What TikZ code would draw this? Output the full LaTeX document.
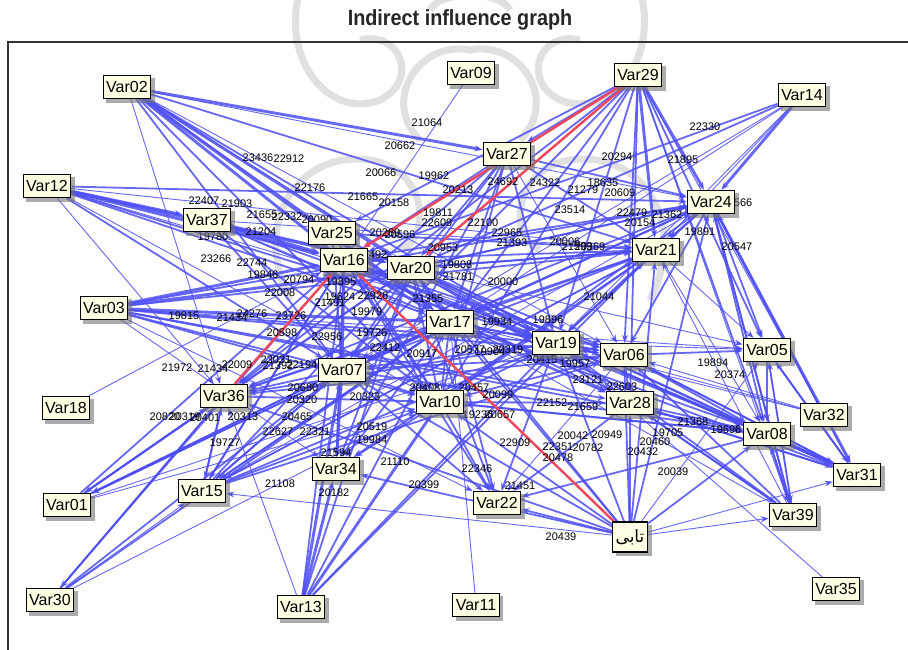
\documentclass[tikz,border=0pt]{standalone}
\usepackage{fontspec}
\setmainfont{Liberation Sans}
\newfontfamily\arabicfont[Script=Arabic]{DejaVu Sans}
\TeXXeTstate=1
\usetikzlibrary{arrows.meta,backgrounds}
\definecolor{eblue}{RGB}{78,78,245}
\definecolor{ered}{RGB}{240,70,90}
\definecolor{cream}{RGB}{255,255,228}
\definecolor{wm}{RGB}{224,224,224}
\pgfdeclarelayer{sh}
\pgfdeclarelayer{fg}
\pgfsetlayers{background,main,sh,fg}
\tikzset{
 vn/.style={draw=black, line width=1.2pt, fill=cream, font=\fontsize{16}{16}\selectfont,
   inner xsep=3pt, inner ysep=3pt, minimum height=23pt},
 el/.style={font=\fontsize{11}{11}\selectfont, inner sep=0pt},
 ed/.style={draw=eblue, draw opacity=0.85, -{Stealth[length=8pt,width=6pt]}},
 tk/.style={line width=2.9pt}, md/.style={line width=1.8pt}, tn/.style={line width=0.9pt},
 rd/.style={draw=ered, line width=2.4pt, -{Stealth[length=8pt,width=6pt]}},
 shd/.style={fill=black!55, fill opacity=0.6},
 wmk/.style={draw=wm, line width=7pt}
}
\begin{document}
\begin{tikzpicture}[x=1pt,y=-1pt]
\useasboundingbox (0,0) rectangle (908,650);
\begin{pgfonlayer}{fg}
\foreach \n/\x/\y in {02/127/87, 09/471/73, 29/638/75, 14/802/95, 27/507/154, 12/47/186,
 37/207/220, 24/711/202, 25/332/233, 16/344/260, 20/411/268, 21/656/250, 03/104/308,
 17/450/322, 19/556/343, 06/624/355, 05/767/350, 07/342/370, 36/224/396, 10/440/402,
 28/630/403, 18/66/408, 32/824/415, 08/767/434, 31/857/475, 34/336/469, 15/202/491,
 01/67/505, 22/497/503, 39/793/515, 30/50/600, 13/301/607, 11/476/605, 35/836/589}
 \node[vn] (n\n) at (\x,\y) {Var\n};
\node[vn, font=\fontsize{17}{17}\selectfont, minimum height=30pt] (ntb) at (630,537) {\arabicfont\beginR تابی\endR};
\end{pgfonlayer}
\begin{pgfonlayer}{sh}
\foreach \n in {02,09,29,14,27,12,37,24,25,16,20,21,03,17,19,06,05,07,36,10,28,18,32,08,31,34,15,01,22,39,30,13,11,35,tb}
 \fill[shd] ([shift={(3.5pt,-3.5pt)}]n\n.south west) rectangle ([shift={(3.5pt,-3.5pt)}]n\n.north east);
\end{pgfonlayer}
\begin{pgfonlayer}{background}
\fill[white] (0,0) rectangle (908,650);
% faint watermark ornament
\draw[wmk] (300,-10) .. controls (280,60) and (330,120) .. (380,100) .. controls (420,80) and (400,30) .. (360,40);
\draw[wmk] (640,-10) .. controls (660,60) and (610,120) .. (560,100) .. controls (520,80) and (540,30) .. (580,40);
\draw[wmk] (290,300) .. controls (250,220) and (300,150) .. (370,160) .. controls (430,170) and (430,240) .. (400,250);
\draw[wmk] (650,300) .. controls (690,220) and (640,150) .. (570,160) .. controls (510,170) and (510,240) .. (540,250);
\draw[wmk] (420,140) .. controls (380,100) and (420,40) .. (470,50) .. controls (520,40) and (560,100) .. (520,140);
\draw[wmk] (430,10) .. controls (440,-10) and (500,-10) .. (510,10);
\foreach \a/\b/\w in {02/27/tk, 02/16/tk, 02/20/tk, 02/17/tk, 02/19/md, 02/21/md, 02/25/md, 02/07/md, 02/10/md, 02/06/tn, 02/24/tn, 02/28/tn, 02/36/tn,
 12/24/md, 12/37/tk, 12/16/tk, 12/20/tk, 12/17/md, 12/19/md, 12/06/tn, 12/07/md, 12/10/tn, 12/21/tn, 12/36/tn,
 03/16/tk, 03/20/tk, 03/17/tk, 03/21/md, 03/24/md, 03/19/md, 03/06/md, 03/28/md, 03/08/md, 03/05/tn, 03/07/md, 03/10/md, 03/34/tn, 03/22/tn,
 29/27/md, 29/25/md, 29/17/md, 29/19/md, 29/21/tk, 29/24/tk, 29/06/md, 29/28/md, 29/05/md, 29/08/md, 29/10/md, 29/07/md, 29/36/md, 29/39/tn, 29/31/tn,
 14/24/tk, 14/16/md, 14/20/md, 14/17/tn, 14/21/tn, 14/19/tn, 14/07/tn, 09/16/tn,
 27/16/md, 27/20/md, 27/17/md, 27/21/md, 27/24/md, 27/19/md, 27/10/md, 27/07/md, 27/06/tn, 27/36/md, 27/34/md,
 37/16/tk, 37/20/md, 37/17/md, 37/19/md, 37/07/md, 37/10/md, 37/06/tn, 37/28/tn, 37/21/tn,
 24/16/md, 24/20/md, 24/05/md, 24/08/md, 24/31/tk, 24/39/md, 24/06/md, 24/19/md, 24/21/md, 24/17/md, 24/07/md, 24/10/md, 24/36/md,
 21/16/md, 21/20/md, 21/17/md, 21/07/md, 21/10/md, 21/36/md, 21/15/md, 21/05/tn, 21/08/tn, 21/34/md,
 16/07/tk, 16/10/md, 16/17/tk, 16/19/md, 16/06/md, 16/28/md, 16/34/md, 16/22/md, 16/08/md, 16/15/md,
 20/17/tk, 20/19/md, 20/06/md, 20/28/md, 20/08/md, 20/07/md, 20/10/md, 20/34/md, 20/22/md, 20/36/md, 20/05/tn, 20/21/md, 20/24/md,
 17/19/md, 17/06/md, 17/28/md, 17/08/md, 17/10/md, 17/07/md, 17/22/md, 17/34/md, 17/36/md, 17/15/md, 17/01/md,
 19/06/md, 19/28/md, 19/08/md, 19/10/md, 19/07/md, 19/22/md, 19/36/md, 19/05/tn, 19/31/md, 19/21/md,
 06/28/md, 06/08/md, 06/05/md, 06/31/md, 06/10/md, 06/07/md, 06/22/tn, 06/36/md,
 05/08/md, 05/31/md, 05/39/tn,
 07/10/md, 07/34/tk, 07/22/md, 07/36/md, 07/15/md, 07/01/md,
 36/15/md, 36/01/md, 36/30/md, 36/10/md,
 10/22/md, 10/34/md, 10/28/md, 10/08/md,
 28/08/md, 28/31/md, 28/39/md, 28/22/md, 18/16/tn,
 32/24/md, 32/06/tn, 32/17/tn, 32/19/tn,
 08/31/tk, 08/39/md, 08/22/md, 08/10/md, 08/07/md,
 31/05/md, 31/19/md, 31/17/md, 31/06/md, 31/28/md, 31/20/md,
 13/34/tk, 13/07/tk, 13/10/tk, 13/17/md, 13/16/md, 13/20/md, 13/19/md, 13/36/tn, 13/21/md,
 30/36/md, 30/07/md, 30/15/tn, 30/17/md, 30/16/tn, 30/10/tn,
 01/36/md, 01/07/md, 01/16/md, 01/17/md, 01/20/md, 01/10/tn, 01/19/tn,
 15/36/md, 15/07/md, 15/16/md, 15/17/md, 15/10/md, 15/19/md, 15/06/md, 15/20/md, 15/21/tn, 15/24/tn,
 11/17/tn, 35/19/tn,
 39/08/md, 39/05/md, 39/24/md, 39/06/md, 39/19/md, 39/28/md, 39/21/tn, 39/17/tn,
 tb/22/md, tb/10/md, tb/17/md, tb/19/md, tb/06/md, tb/28/md, tb/21/md, tb/24/md, tb/05/tn, tb/08/md, tb/07/md, tb/34/md, tb/36/md, tb/20/md, tb/39/tn, tb/31/tn, tb/15/tn,
 25/17/md, 25/19/md, 25/07/md, 25/10/md, 25/21/md}
 \draw[ed,\w] (n\a) -- (n\b);
\draw[rd] (n29) -- (n16);
\draw[rd] (n29) -- (n20);
\draw[rd] (n36) -- (n16);
\draw[rd] (ntb) -- (n16);
\end{pgfonlayer}
\node[font=\bfseries\fontsize{22}{22}\selectfont, text=black!85] (title) at (460,20) {\scalebox{0.9}[1]{Indirect influence graph}};
\draw[line width=1.2pt, black!80] (8,650) -- (8,42) -- (908,42);
\foreach \x/\y/\t in {427/123/21064, 400/146/20662, 258/158/23436, 289/159/22912, 381/173/20066, 434/176/19962, 310/188/22176, 458/190/20213, 503/182/24692, 545/183/24322, 617/157/20294, 683/160/21895, 705/127/22330, 583/190/21279, 603/183/18635, 620/193/20609, 570/210/23514, 632/213/22479, 667/215/21362, 640/223/20154, 700/232/19891, 737/247/20547, 737/203/21566, 483/223/22100, 507/233/22965, 512/243/21393, 565/242/20006, 577/247/21599, 590/247/20369, 443/248/20953, 438/213/19811, 437/223/22609, 503/282/20000, 428/299/21355, 363/197/21665, 394/203/20158, 204/201/22407, 237/204/21903, 262/215/21655, 287/217/22332, 317/220/20090, 261/232/21204, 213/237/19780, 216/259/23266, 252/263/22744, 263/275/19846, 299/280/20794, 341/282/19895, 385/233/20260, 400/235/20596, 372/255/21492, 184/316/19815, 232/318/21434, 252/314/24276, 291/316/23726, 280/293/22008, 330/303/21491, 340/297/19624, 373/296/22926, 367/312/19979, 282/333/20598, 327/337/22956, 372/333/19726, 385/348/22412, 422/354/20917, 177/368/21972, 213/369/21434, 237/365/22009, 276/360/23031, 278/366/21392, 302/365/22194, 303/388/20680, 302/400/20320, 365/397/20323, 425/388/20408, 165/417/20820, 185/417/20319, 205/418/20401, 243/417/20313, 297/417/20465, 278/432/22627, 315/432/22321, 372/427/20519, 372/440/19984, 225/443/19727, 336/453/21594, 395/462/21110, 599/297/21044, 497/322/19934, 548/320/19896, 470/350/20577, 490/352/19904, 508/350/20319, 542/360/20415, 575/364/19957, 588/380/23121, 622/387/22603, 713/363/19894, 730/375/20374, 474/388/20457, 498/395/20099, 552/403/22152, 583/407/21659, 478/415/19236, 500/415/20657, 693/422/21368, 726/430/19696, 515/443/22909, 573/436/20042, 607/435/20949, 558/447/22351, 588/448/20782, 558/458/20478, 668/433/19705, 655/442/20460, 643/452/20432, 673/472/20039, 477/469/22346, 520/486/21451, 424/485/20399, 280/484/21108, 334/493/20182, 561/537/20439, 457/265/19808, 458/277/21781}
 \node[el] at (\x,\y) {\t};
\end{tikzpicture}
\end{document}
